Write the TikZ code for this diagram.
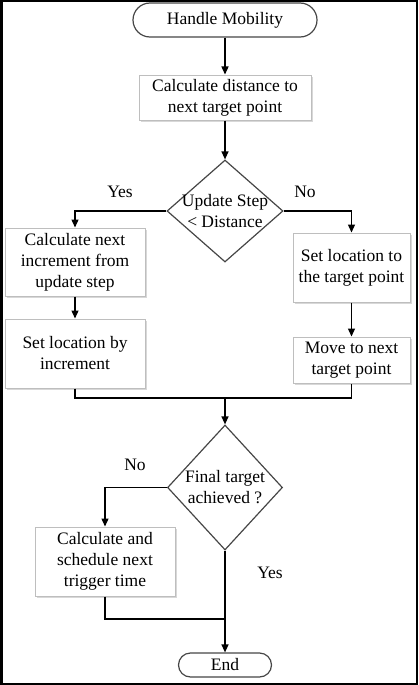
\documentclass[tikz,border=0pt]{standalone}
\usepackage{fontspec}
\setmainfont{Liberation Serif}
\definecolor{boxgray}{RGB}{190, 190, 190}
\definecolor{edgegray}{RGB}{70, 70, 70}
\usetikzlibrary{shapes.geometric, arrows.meta, positioning, shadows}

\tikzset{
  flowfont/.style={font=\fontsize{17.5}{21}\selectfont},
  procbox/.style={draw=boxgray, line width=1pt, fill=white, flowfont, align=center, inner sep=2pt,
    drop shadow={shadow xshift=1.5pt, shadow yshift=-1.5pt, fill=black!30, opacity=0.5}},
  termbox/.style={draw=edgegray, line width=1.2pt, fill=white, flowfont, rounded corners=#1},
  decision/.style={draw=edgegray, line width=1.2pt, diamond, inner sep=0pt},
  flowline/.style={line width=1.3pt, black},
  flowarrow/.style={flowline, -{Triangle[length=8pt, width=7pt]}}
}

\begin{document}
\begin{tikzpicture}[x=1pt, y=-1pt]
  \useasboundingbox (0,0) rectangle (418,685);
  \draw[line width=2.5pt] (1.25,1.25) rectangle (416.75,683.75);

  % Start
  \node[termbox=17pt, minimum width=184pt, minimum height=34pt] (start) at (225,20) {Handle Mobility};
  \node[procbox, minimum width=172pt, minimum height=45pt] (dist) at (225,97.5) {Calculate distance to\\next target point};
  \draw[flowarrow] (start) -- (dist);

  % First decision
  \node[decision, minimum width=116pt, minimum height=102pt] (dec1) at (225,211) {};
  \node[flowfont, align=center] (dec1txt) at (dec1.center) {Update Step\\< Distance};
  \draw[flowarrow] (dist) -- (dec1.north);

  % Yes branch
  \node[procbox, minimum width=140pt, minimum height=68pt] (incr) at (75,262) {Calculate next\\increment from\\update step};
  \node[procbox, minimum width=140pt, minimum height=69pt] (setincr) at (75,353.5) {Set location by\\increment};
  \node[flowfont] (yes1) at (120,192) {Yes};
  \draw[flowarrow] (dec1.west) -| (incr.north);
  \draw[flowarrow] (incr) -- (setincr);

  % No branch
  \node[procbox, minimum width=117pt, minimum height=69pt] (settarget) at (351.5,267.5) {Set location to\\the target point};
  \node[procbox, minimum width=117pt, minimum height=46pt] (movenext) at (351.5,360) {Move to next\\target point};
  \node[flowfont] (no1) at (305,192) {No};
  \draw[flowarrow] (dec1.east) -| (settarget.north);
  \draw[flowarrow] (settarget) -- (movenext);

  % Merge
  \coordinate (merge) at (225,398);
  \draw[flowline] (setincr.south) |- (merge) -| (movenext.south);

  % Second decision
  \node[decision, minimum width=115pt, minimum height=125pt] (dec2) at (225,487.5) {};
  \node[flowfont, align=center] (dec2txt) at (dec2.center) {Final target\\achieved ?};
  \draw[flowarrow] (merge) -- (dec2.north);

  % Reschedule
  \node[procbox, minimum width=140pt, minimum height=69pt] (sched) at (105,561.5) {Calculate and\\schedule next\\trigger time};
  \node[flowfont] (no2) at (135,465) {No};
  \draw[flowarrow] (dec2.west) -| (sched.north);

  % End
  \node[termbox=12pt, minimum width=93pt, minimum height=24pt, inner sep=0pt] (end) at (225,665) {End};
  \node[flowfont] (yes2) at (270,573) {Yes};
  \coordinate (join) at (225,619);
  \draw[flowarrow] (dec2.south) -- (end.north);
  \draw[flowline] (sched.south) |- (join);
\end{tikzpicture}
\end{document}
